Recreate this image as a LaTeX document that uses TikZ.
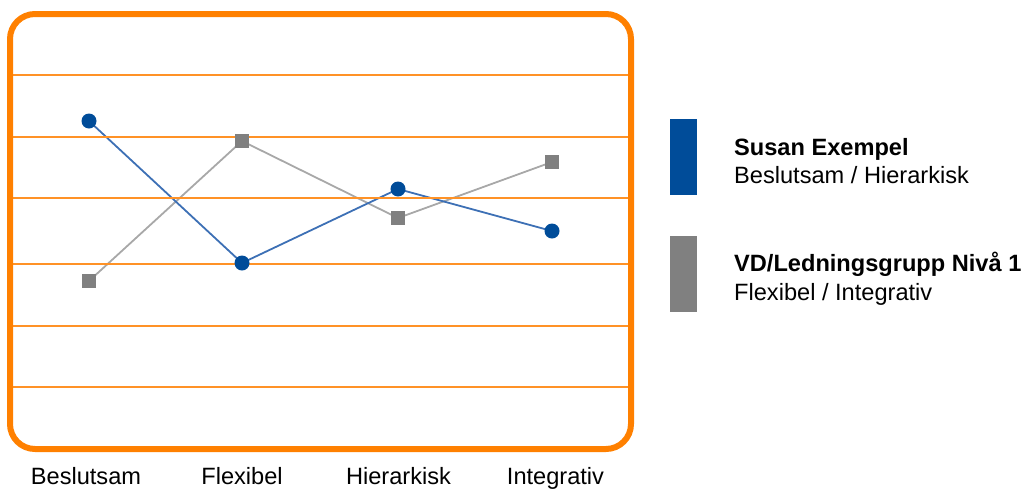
\documentclass[tikz,border=0pt]{standalone}
\usepackage{fontspec}
\setmainfont{Liberation Sans}
\usetikzlibrary{backgrounds}
\definecolor{frameorange}{HTML}{FF8000}
\definecolor{gridorange}{HTML}{FF9226}
\definecolor{markblue}{HTML}{004C99}
\definecolor{lineblue}{HTML}{3D70B5}
\definecolor{markgray}{HTML}{808080}
\definecolor{linegray}{HTML}{A8A8A8}
\tikzset{
  bluept/.style={circle, fill=markblue, inner sep=0pt, minimum size=15pt},
  graypt/.style={rectangle, fill=markgray, inner sep=0pt, minimum size=14.5pt},
  blueline/.style={draw=lineblue, line width=1.8pt},
  grayline/.style={draw=linegray, line width=1.8pt},
  gridline/.style={draw=gridorange, line width=2pt},
  txt/.style={font=\fontsize{23.6}{28}\selectfont, inner sep=0pt},
  boldtxt/.style={txt, font=\fontsize{23.6}{28}\selectfont\bfseries},
  legbar/.style={rectangle, inner sep=0pt, minimum width=27pt, minimum height=76.5pt}
}
\begin{document}
\begin{tikzpicture}[x=1pt, y=-1pt]
\useasboundingbox (0,0) rectangle (1025,488);

% chart frame
\draw[frameorange, line width=6pt, rounded corners=25pt] (10,14) rectangle (631,449);

% data markers
\node[bluept] (b1) at (89,121) {};
\node[bluept] (b2) at (242,263) {};
\node[bluept] (b3) at (398,189) {};
\node[bluept] (b4) at (552,231) {};
\node[graypt] (g1) at (89,281) {};
\node[graypt] (g2) at (242,141) {};
\node[graypt] (g3) at (398,218) {};
\node[graypt] (g4) at (552,162) {};

\begin{scope}[on background layer]
  % series lines
  \draw[grayline] (g1.center) -- (g2.center) -- (g3.center) -- (g4.center);
  \draw[blueline] (b1.center) -- (b2.center) -- (b3.center) -- (b4.center);
  % horizontal grid
  \foreach \y in {75,136.5,198,263.5,325.5,387}
    \draw[gridline] (13,\y) -- (628,\y);
\end{scope}

% category labels
\node[txt, anchor=base] (c1) at (86,484) {Beslutsam};
\node[txt, anchor=base] (c2) at (242,484) {Flexibel};
\node[txt, anchor=base] (c3) at (398.5,484) {Hierarkisk};
\node[txt, anchor=base] (c4) at (555.5,484) {Integrativ};

% legend
\node[legbar, fill=markblue, anchor=north west] (lb) at (670,118.3) {};
\node[legbar, fill=markgray, anchor=north west] (lg) at (670,235.5) {};
\node[boldtxt, anchor=base west] (l1) at (734,155) {Susan Exempel};
\node[txt, anchor=base west] (l2) at (734,183) {Beslutsam / Hierarkisk};
\node[boldtxt, anchor=base west] (l3) at (734,271.5) {VD/Ledningsgrupp Nivå 1};
\node[txt, anchor=base west] (l4) at (734,300.5) {Flexibel / Integrativ};
\end{tikzpicture}
\end{document}
